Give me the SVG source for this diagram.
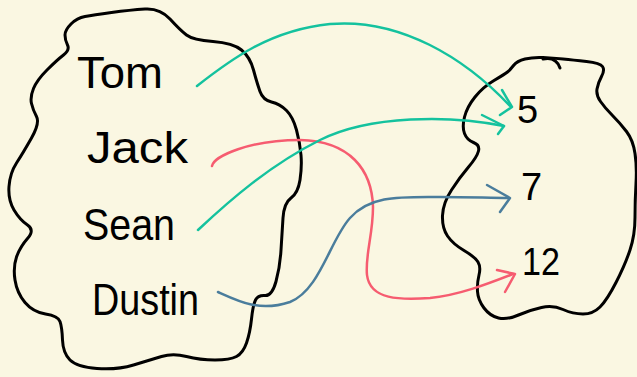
<svg xmlns="http://www.w3.org/2000/svg" width="637" height="377" viewBox="0 0 637 377">
  <style>
    .blob { fill: none; stroke: #000; stroke-width: 3; stroke-linecap: round; stroke-linejoin: round; }
    .arrow { fill: none; stroke-width: 2.5; stroke-linecap: round; stroke-linejoin: round; }
    .teal { stroke: #14c29e; }
    .pink { stroke: #f65c70; }
    .blue { stroke: #4a7d9c; }
    .name { font-family: "Liberation Sans", Arial, sans-serif; font-size: 44px; fill: #000; }
    .num { font-family: "Liberation Sans", Arial, sans-serif; font-size: 38px; fill: #000; }
  </style>
  <rect width="637" height="377" fill="#faf7e2"/>

  <!-- domain set -->
  <g id="domain">
    <path class="blob" d="M85,16.5 Q93,15 111.5,12.5 Q130,10 145,9 Q160,8 170,19 Q180,30 186.5,35 Q193,40 213,41.5 Q233,43 241.5,50 Q250,57 253.5,70 Q257,83 260,91.5 Q263,100 271.5,102 Q280,104 286.5,110.5 Q293,117 296.5,130 Q300,143 301,155 Q302,167 300,180 Q298,193 291,198 Q284,203 283,218 Q282,233 281,250 Q280,267 276,281.5 Q272,296 265,295.5 Q258,295 255.5,300 Q253,305 251.5,319 Q250,333 246.5,343 Q243,353 236.5,356.5 Q230,360 215,360 Q200,360 186.5,356.5 Q173,353 161.5,356.5 Q150,360 133.5,365 Q117,370 97,368.5 Q77,367 70,360 Q63,353 62.5,340 Q62,327 60,321.5 Q58,316 45.5,314 Q33,312 25,302.5 Q17,293 15,280 Q13,267 16.5,257 Q20,247 27.5,238.5 Q35,230 27.5,225 Q20,220 14,210 Q8,200 9,186.5 Q10,173 16.5,163 Q23,153 31.5,138 Q40,123 36.5,116.5 Q33,110 31.5,103.5 Q30,97 33.5,88.5 Q37,80 47,70 Q57,60 63.5,55 Q70,50 67.5,45 Q65,40 65,35 Q65,30 71,24 Q77,18 85,16.5 Z"/>
  </g>
  <g id="tom"><text class="name" x="77" y="88" textLength="86" lengthAdjust="spacingAndGlyphs">Tom</text></g>
  <g id="jack"><text class="name" x="87" y="163" textLength="101" lengthAdjust="spacingAndGlyphs">Jack</text></g>
  <g id="sean"><text class="name" x="83" y="240" textLength="92" lengthAdjust="spacingAndGlyphs">Sean</text></g>
  <g id="dustin"><text class="name" x="92" y="315" textLength="107" lengthAdjust="spacingAndGlyphs">Dustin</text></g>

  <!-- codomain set -->
  <g id="codomain">
    <path class="blob" d="M507.5,72 Q510,70 513.5,65.5 Q517,61 525,59 Q533,57 543,57.5 Q553,58 563,59 Q573,60 586.5,61.5 Q600,63 602.5,66.5 Q605,70 601.5,76.5 Q598,83 597,89 Q596,95 600.5,101.5 Q605,108 612.5,115.5 Q620,123 626.5,131.5 Q633,140 635,153.5 Q637,167 636,183.5 Q635,200 635,217.5 Q635,235 630,250 Q625,265 616,282.5 Q607,300 600,307 Q593,314 583,314 Q573,314 563,309.5 Q553,305 541.5,307.5 Q530,310 518.5,315 Q507,320 498.5,318 Q490,316 484,308 Q478,300 477.5,291.5 Q477,283 479,275 Q481,267 478,262 Q475,257 464,250.5 Q453,244 447.5,236 Q442,228 442.5,215.5 Q443,203 451.5,190 Q460,177 468.5,167 Q477,157 478.5,151 Q480,145 473.5,142.5 Q467,140 464.5,133.5 Q462,127 464.5,117 Q467,107 475,97 Q483,87 494,80.5 Q505,74 507.5,72 Z"/>
    <path class="blob" d="M543,59 Q556,56 560,68"/>
  </g>
  <g id="n5"><text class="num" x="517" y="123">5</text></g>
  <g id="n7"><text class="num" x="521" y="200">7</text></g>
  <g id="n12"><text class="num" x="522" y="275" textLength="38" lengthAdjust="spacingAndGlyphs">12</text></g>

  <!-- mapping arrows -->
  <g id="connectors">
    <path class="arrow teal" d="M197,86 C230,60 270,30 330,24 C400,18 465,58 510,106"/>
    <path class="arrow teal" d="M502,90 L512,107 L500,115"/>

    <path class="arrow pink" d="M212,166 C214,156 250,140 300,140 C350,141 372,170 373,207 C373,235 365,255 367,275 C370,300 400,300 430,298 C460,295 490,283 513,274"/>
    <path class="arrow pink" d="M497,270 L515,274 L505,292"/>

    <path class="arrow teal" d="M198,230 C230,200 270,165 320,140 C370,115 450,115 504,126"/>
    <path class="arrow teal" d="M482,115 L504,126 L498,134"/>

    <path class="arrow blue" d="M218,292 C240,302 260,312 290,302 C320,290 330,240 350,218 C370,195 400,197 440,197 C470,197 490,198 509,198"/>
    <path class="arrow blue" d="M487,185 L510,198 L500,212"/>
  </g>
</svg>
